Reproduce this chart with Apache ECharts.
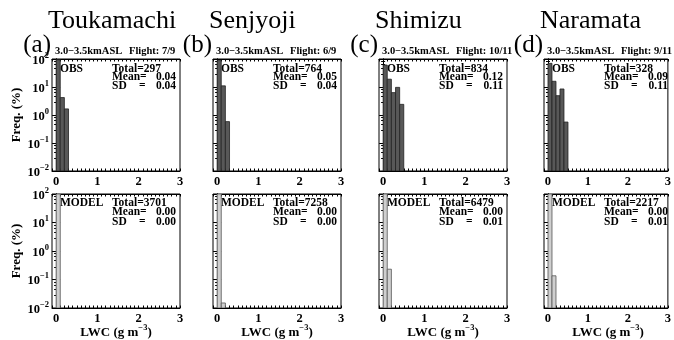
<!DOCTYPE html>
<html>
<head>
<meta charset="utf-8">
<script src="https://cdn.jsdelivr.net/npm/echarts@6/dist/echarts.min.js"></script>
<style>html,body{margin:0;padding:0;background:#fff}#c{width:674px;height:340px}</style>
</head>
<body>
<div id="c"></div>
<script>
// ---- data ----
const stations = ['Toukamachi', 'Senjyoji', 'Shimizu', 'Naramata'];
const panelTags = ['(a)', '(b)', '(c)', '(d)'];
const flights = ['Flight: 7/9', 'Flight: 6/9', 'Flight: 10/11', 'Flight: 9/11'];
const layerLabel = '3.0\u22123.5kmASL';
const binWidth = 0.1;
const binLefts = [0, 0.1, 0.2, 0.3, 0.4];
const obsA = [94, 4.2, 1.65];
const obsB = [88, 11, 0.58];
const obsC = [61, 19, 6.3, 9.7, 2.4];
const obsD = [70, 16, 4.9, 8.5, 0.56];
const modelA = [100];
const modelB = [99.98, 0.015];
const modelC = [99.8, 0.23];
const modelD = [99.87, 0.135];
const obsTotals = [297, 764, 834, 328];
const obsMeans = ['0.04', '0.05', '0.12', '0.09'];
const obsSDs = ['0.04', '0.04', '0.11', '0.11'];
const modelTotals = [3701, 7258, 6479, 2217];
const modelMeans = ['0.00', '0.00', '0.00', '0.00'];
const modelSDs = ['0.00', '0.00', '0.01', '0.01'];
const xTickLabels = [0, 1, 2, 3];
const yTickExps = [-2, -1, 0, 1, 2];

// ---- layout ----
const FONT = "'Liberation Serif', 'Times New Roman', serif";
const lefts = [52, 213, 379, 544];
const W = 128;
const rows = [{top: 59, h: 112}, {top: 194, h: 114}];
const obsSets = [obsA, obsB, obsC, obsD];
const modelSets = [modelA, modelB, modelC, modelD];

const grids = [], xAxes = [], yAxes = [], series = [], graphics = [];

function supExp(e) { return e < 0 ? '\u2212' + Math.abs(e) : String(e); }

let gi = 0;
for (let r = 0; r < 2; r++) {
  for (let p = 0; p < 4; p++) {
    grids.push({left: lefts[p], top: rows[r].top, width: W, height: rows[r].h,
      show: true, borderColor: '#000', borderWidth: 1, backgroundColor: 'transparent'});
    const xBase = {
      type: 'value', gridIndex: gi, min: -0.1, max: 3, interval: 0.1,
      axisLine: {show: true, lineStyle: {color: '#000', width: 1}},
      axisTick: {show: true, inside: true, length: 2.5, lineStyle: {color: '#000', width: 1}},
      splitLine: {show: false}
    };
    xAxes.push(Object.assign({}, xBase, {position: 'bottom',
      axisLabel: {show: true, customValues: xTickLabels, formatter: v => String(Math.round(v)),
        fontFamily: FONT, fontWeight: 'bold', fontSize: 12.5, color: '#000', margin: 4}}));
    xAxes.push(Object.assign({}, xBase, {position: 'top', axisLabel: {show: false}}));
    const yBase = {
      type: 'log', logBase: 10, gridIndex: gi, min: 0.01, max: 100, splitNumber: 4,
      axisLine: {show: true, lineStyle: {color: '#000', width: 1}},
      axisTick: {show: true, inside: true, length: 4, lineStyle: {color: '#000'}},
      minorTick: {show: true, splitNumber: 5, length: 2, lineStyle: {color: '#000'}},
      splitLine: {show: false}, minorSplitLine: {show: false}
    };
    yAxes.push(Object.assign({}, yBase, {position: 'left',
      axisLabel: {show: p === 0, margin: 3,
        formatter: v => '{n|10}{s|' + supExp(Math.round(Math.log10(v))) + '}',
        rich: {
          n: {fontFamily: FONT, fontWeight: 'bold', fontSize: 12.5, color: '#000', lineHeight: 16, verticalAlign: 'bottom'},
          s: {fontFamily: FONT, fontWeight: 'bold', fontSize: 8.5, color: '#000', lineHeight: 16, verticalAlign: 'top'}
        }}}));
    yAxes.push(Object.assign({}, yBase, {position: 'right', axisLabel: {show: false}}));

    const vals = r === 0 ? obsSets[p] : modelSets[p];
    const fill = r === 0 ? '#585858' : '#cfcfcf';
    const stroke = r === 0 ? '#222' : '#555';
    series.push({
      type: 'custom', xAxisIndex: gi * 2, yAxisIndex: gi * 2, clip: true,
      encode: {x: 0, y: 1},
      data: vals.map((v, i) => [binLefts[i], v]),
      renderItem: (params, api) => {
        const x0 = api.value(0), v = api.value(1);
        const a = api.coord([x0, v]);
        const b = api.coord([x0 + binWidth, 0.01]);
        return {type: 'rect', shape: {x: a[0], y: a[1], width: b[0] - a[0], height: b[1] - a[1]},
          style: {fill: fill, stroke: stroke, lineWidth: 0.8}};
      }
    });

    // in-panel texts
    const L = lefts[p], T = rows[r].top;
    const ls = r === 0 ? 8.5 : 9.5;
    const b0 = T + (r === 0 ? 16 : 15);
    const tf = {fontFamily: FONT, fontWeight: 'bold', fontSize: 11.5, fill: '#000'};
    const txt = (x, y, s, align) => graphics.push({type: 'text', x: x, y: y,
      style: Object.assign({text: s, textAlign: align || 'left', textVerticalAlign: 'bottom'}, tf,
        {font: 'bold 11.5px ' + FONT})});
    txt(L + 8, b0, r === 0 ? 'OBS' : 'MODEL');
    txt(L + 60, b0, 'Total=' + (r === 0 ? obsTotals[p] : modelTotals[p]));
    txt(L + 60, b0 + ls, 'Mean=');
    txt(L + W - 4, b0 + ls, r === 0 ? obsMeans[p] : modelMeans[p], 'right');
    txt(L + 60, b0 + 2 * ls, 'SD');
    txt(L + 87, b0 + 2 * ls, '=');
    txt(L + W - 4, b0 + 2 * ls, r === 0 ? obsSDs[p] : modelSDs[p], 'right');
    gi++;
  }
}

// headers
for (let p = 0; p < 4; p++) {
  const L = lefts[p];
  graphics.push({type: 'text', x: L - 4, y: 34, style: {text: stations[p], font: '26px ' + FONT, fill: '#000', textAlign: 'left', textVerticalAlign: 'bottom'}});
  graphics.push({type: 'text', x: L - 1, y: 58, style: {text: panelTags[p], font: '25px ' + FONT, fill: '#000', textAlign: 'right', textVerticalAlign: 'bottom'}});
  graphics.push({type: 'text', x: L + 3, y: 57, style: {text: layerLabel, font: 'bold 10.5px ' + FONT, fill: '#000', textAlign: 'left', textVerticalAlign: 'bottom'}});
  graphics.push({type: 'text', x: L + 77, y: 57, style: {text: flights[p], font: 'bold 10.5px ' + FONT, fill: '#000', textAlign: 'left', textVerticalAlign: 'bottom'}});
  graphics.push({type: 'text', x: L + W / 2, y: 339, style: {
    text: '{a|LWC (g m}{s|\u22123}{a|)}', textAlign: 'center', textVerticalAlign: 'bottom',
    rich: {a: {font: 'bold 13px ' + FONT, fill: '#000', lineHeight: 16, verticalAlign: 'bottom'},
           s: {font: 'bold 8.5px ' + FONT, fill: '#000', lineHeight: 16, verticalAlign: 'top'}}}});
}
for (let r = 0; r < 2; r++) {
  graphics.push({type: 'text', x: 17, y: rows[r].top + rows[r].h / 2, rotation: Math.PI / 2,
    style: {text: 'Freq. (%)', font: 'bold 13px ' + FONT, fill: '#000', textAlign: 'center', textVerticalAlign: 'middle'}});
}

const chart = echarts.init(document.getElementById('c'), null, {renderer: 'canvas'});
chart.setOption({
  animation: false,
  backgroundColor: '#fff',
  grid: grids, xAxis: xAxes, yAxis: yAxes, series: series,
  graphic: {elements: graphics}
});
</script>
</body>
</html>
